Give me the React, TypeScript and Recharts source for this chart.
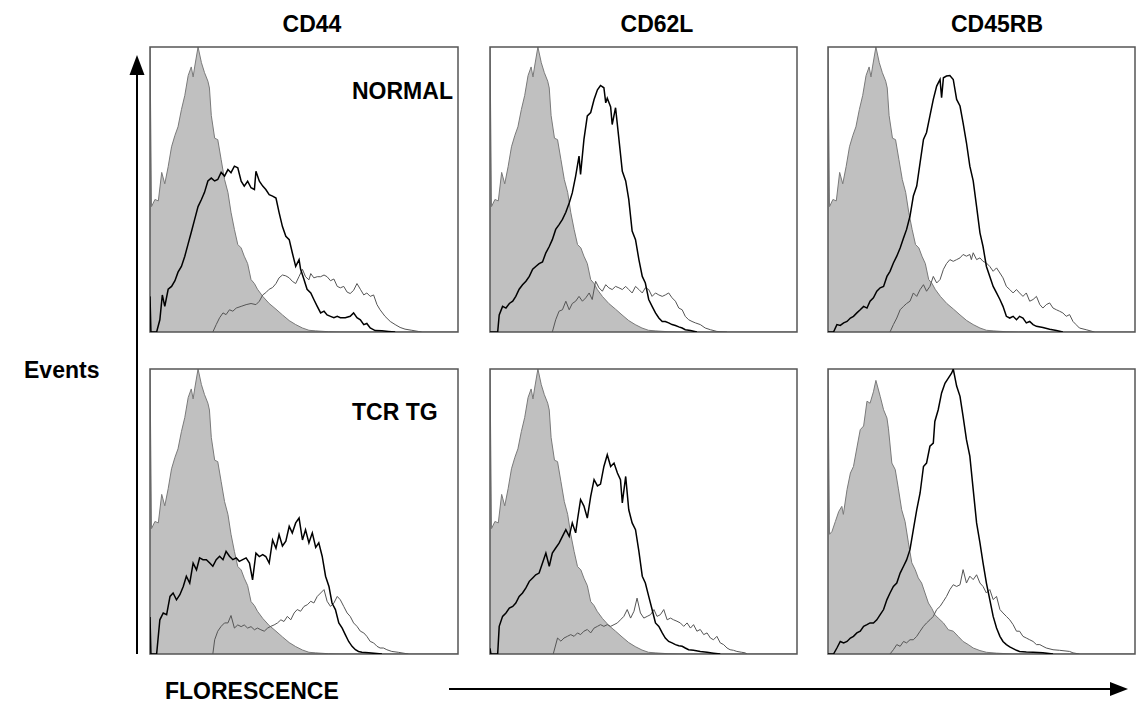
import { ComposedChart, Area, Line, XAxis, YAxis, ReferenceArea } from "recharts";

// Each series: [channel as % of panel width, events as % of panel height]

// isotype control (grey filled)
const CONTROL = [
  [0, 100], [0.5, 44], [1.6, 46.5], [2.7, 46], [3.8, 56], [4.8, 52], [5.9, 58], [7, 65], [8.1, 69],
  [9.1, 72], [10.2, 78], [11.3, 83], [12.4, 90], [13.4, 93], [14, 89.5], [14.5, 93], [15.6, 100],
  [16.7, 94.5], [17.7, 91], [18.8, 88], [19.3, 85.6], [19.9, 76], [21, 68], [22, 67.5], [23.1, 60.5],
  [24.2, 53.5], [25.3, 49], [26.3, 42], [27.4, 36], [28.5, 30.7], [29.6, 29.5], [30.6, 26.6],
  [31.7, 24], [32.8, 18.4], [33.9, 17], [34.9, 15], [36.6, 12.5], [38.7, 10], [40.9, 8], [43, 6],
  [45.2, 4], [47.3, 2.6], [49.5, 1.4], [51.6, 0.6], [53.8, 0.4], [58, 0.1], [62, 0], [100, 0],
];
const CONTROL_TG_CD45RB = [
  [0, 100], [0.5, 42], [1.3, 43], [2.4, 46.5], [3.5, 50], [4.5, 51.8], [5, 49], [6.2, 57.7],
  [7.3, 63.5], [8.3, 65.8], [9.4, 72.3], [10.5, 78.7], [11.6, 80], [12.7, 88.7], [13.7, 88],
  [14.8, 92], [15.6, 96], [17, 90.4], [18.1, 85.7], [19.2, 82.8], [19.7, 79], [20.8, 67],
  [21.9, 64.7], [22.9, 58.2], [24, 50.6], [25.1, 46.5], [26.2, 39], [27.3, 32], [28.4, 29.6],
  [29.4, 26.7], [30.5, 24.9], [31.6, 21.4], [32.7, 17.9], [33.8, 16], [34.8, 13.8], [35.9, 12.6],
  [37.6, 10.9], [39.2, 8.5], [40.8, 8], [42.4, 6.2], [44, 4.4], [45.7, 3.3], [47.3, 2.1],
  [49.5, 1.2], [51.6, 0.6], [54.9, 0.3], [60, 0], [100, 0],
];

// NORMAL row
const CD44_NORMAL_BOLD = [
  [0, 12.5], [0.3, 0], [2.15, 0], [3.2, 4.3], [4, 13], [4.8, 9], [5.9, 15], [7, 16], [8.1, 18],
  [9.1, 21], [10.2, 23], [11.3, 26.6], [12.4, 31], [13.4, 35], [14.5, 39.5], [15.6, 44], [16.7, 46.5],
  [17.7, 49], [18.8, 53], [19.9, 54], [21, 53], [22, 53.5], [23.1, 56], [24.2, 54.7], [25.3, 57],
  [26.3, 55.9], [27.4, 58.2], [28.5, 57.6], [29.6, 52.9], [30.6, 51.2], [31.7, 52.9], [32.8, 50.6],
  [33.9, 50], [34.4, 56.4], [35.5, 52.9], [36.6, 51.2], [37.6, 50], [38.7, 48.2], [39.8, 47.7],
  [40.9, 47], [41.9, 42], [43, 37], [44.1, 33.6], [45.2, 32.4], [46.2, 27.8], [47.3, 23],
  [48.4, 25.4], [48.9, 22], [50, 18.4], [51, 15], [52.2, 13.7], [53.2, 11.4], [54.3, 9], [55.4, 6.7],
  [56.5, 7.3], [57.5, 6], [58.6, 5.5], [59.7, 5], [60.8, 5.5], [61.8, 5], [63.4, 5], [65, 5.5],
  [66.1, 6.7], [67.2, 5], [68.3, 4.3], [69.4, 2.6], [70.4, 3], [71.5, 1.4], [73.1, 0.5], [75.3, 0.4],
  [77.4, 0.2], [79.6, 0],
];
const CD44_NORMAL_THIN = [
  [20.4, 0], [21.5, 2.6], [22.6, 5], [23.7, 6.7], [24.7, 6.1], [25.8, 7.8], [26.9, 7.3], [28, 8.4],
  [29.6, 9], [31.2, 9.6], [32.8, 10], [34.4, 9.6], [35.5, 10.8], [36.6, 13], [37.6, 13.8], [38.7, 15],
  [39.8, 15.6], [40.9, 17], [41.9, 19], [43, 20], [44.1, 19.7], [45.2, 19], [46.2, 17.8], [47.3, 17],
  [48.4, 19.5], [49.5, 22], [50.5, 19.4], [51.6, 18.3], [52.2, 20.5], [53.2, 19], [54.3, 19.4],
  [55.4, 19.4], [56.5, 20], [57.5, 19.4], [58.6, 18], [59.7, 18.6], [60.8, 16], [61.8, 15.5],
  [62.9, 16], [64, 14], [65, 13.5], [66.1, 14.6], [67.2, 17], [68.3, 15], [69.4, 13], [70.4, 13.7],
  [71.5, 12.5], [72.6, 13], [73.7, 9.6], [74.7, 7.8], [76.3, 5.5], [78, 3.7], [79.6, 2.6],
  [81.2, 1.6], [82.8, 1], [85, 0.6], [87.1, 0.2], [88.2, 0],
];
const CD62L_NORMAL_BOLD = [
  [0, 0], [2.5, 0], [3, 6], [4.1, 9], [5.2, 8.4], [6.3, 10], [7.4, 10.8], [8.4, 12.5], [9.5, 15],
  [10.6, 16.6], [11.7, 17.8], [12.8, 19.5], [13.9, 22], [14.9, 23], [16, 24], [17.1, 24.6],
  [18.2, 27.8], [19.3, 30], [20.3, 32.4], [21.4, 36], [22.5, 37.7], [23.6, 39.5], [24.7, 42],
  [25.8, 45.3], [26.8, 48.8], [27.9, 54.7], [29, 61.7], [29.5, 55.3], [30.6, 67.6], [31.7, 75.8],
  [32.8, 77], [33.9, 81.6], [35, 85], [36, 86.5], [37.1, 85.7], [37.7, 80.4], [38.2, 82], [39.3, 79],
  [39.8, 72.8], [40.9, 78.7], [42, 67.6], [43.1, 56.4], [44.2, 53], [45.2, 46.5], [46.3, 35.4],
  [47.4, 32.4], [48.5, 25.4], [49.6, 19.5], [50.6, 17.2], [51.7, 11.4], [52.8, 9], [53.9, 6.7],
  [55, 4.9], [56.1, 3.7], [57.1, 3.7], [58.2, 3.2], [59.3, 2.6], [60.4, 2.3], [61.5, 1.8],
  [62.6, 1.4], [63.6, 0.8], [65.3, 0.5], [67.4, 0],
];
const CD62L_NORMAL_THIN = [
  [20.3, 0], [21.4, 4.3], [22.5, 7.3], [23.6, 7.8], [24.7, 10.8], [25.8, 7.8], [26.8, 10],
  [27.9, 10.8], [29, 12.5], [30.1, 10.8], [31.2, 12], [32.3, 13.7], [33.3, 11.4], [34.4, 17.8],
  [35.5, 15.5], [36.6, 14.3], [37.7, 16.6], [38.7, 15.5], [39.8, 14.9], [40.9, 16], [42, 15.5],
  [43.1, 14.9], [44.2, 16], [45.2, 14.9], [46.3, 13.7], [47.4, 16], [48.5, 14.9], [49.6, 13.7],
  [50.6, 15.5], [51.7, 14.9], [52.8, 12.5], [53.9, 13.7], [55, 13], [56.1, 12.5], [57.1, 13],
  [58.2, 13.7], [59.3, 12], [60.4, 10.8], [61.5, 8.4], [62.6, 7.8], [63.6, 5.5], [64.7, 4.3],
  [65.8, 3.7], [66.9, 3.2], [68.5, 2.6], [70.1, 1.4], [71.8, 0.8], [73.9, 0.2], [77.2, 0],
];
const CD45RB_NORMAL_BOLD = [
  [0, 0], [1.8, 0], [2.9, 2.6], [4, 2.3], [5.1, 3.2], [6.2, 3.7], [7.3, 4.9], [8.3, 5.5], [9.4, 6.7],
  [10.5, 7.8], [11.6, 9], [12.7, 8.4], [13.7, 10.8], [14.8, 12], [15.9, 14.3], [17, 15.5], [18.1, 16],
  [19.2, 19.5], [20.2, 21.3], [21.3, 24.2], [22.4, 26.6], [23.5, 29.5], [24.6, 33], [25.6, 36],
  [26.7, 40.6], [27.8, 47.7], [28.9, 51.2], [30, 59.4], [31.1, 67.6], [32.1, 70], [33.2, 75.8],
  [34.3, 81.6], [35.4, 86.3], [36.5, 88.6], [37, 82.2], [37.6, 89.2], [38.6, 89.8], [39.7, 90],
  [40.8, 88.6], [41.9, 81.6], [43, 79.3], [44, 73.4], [45.1, 66.4], [46.2, 58.2], [47.3, 53],
  [48.4, 44], [49.5, 34.8], [50.5, 30], [51.6, 23], [52.7, 19.5], [53.8, 16], [54.9, 13.7],
  [56, 11.4], [57, 9], [58.1, 5.5], [59.2, 4.9], [60.3, 5.5], [61.4, 4.3], [62.4, 5.5], [63.5, 4.9],
  [64.6, 3.2], [65.7, 3.7], [66.8, 2.6], [67.9, 2], [70, 1.6], [72.2, 1], [74.4, 0.5], [76.5, 0],
];
const CD45RB_NORMAL_THIN = [
  [20.2, 0], [21.3, 2.6], [22.4, 4.9], [23.5, 7.8], [24.6, 9], [25.6, 10], [26.7, 10.8], [27.8, 13.7],
  [28.9, 12.5], [30, 14.9], [31.1, 16.6], [32.1, 14.3], [33.2, 16], [34.3, 19.5], [35.4, 17.2],
  [36.5, 18.4], [37.6, 22], [38.6, 24], [39.7, 25.4], [40.8, 24.8], [41.9, 25.4], [43, 26],
  [44, 27.2], [45.1, 26.6], [46.2, 27.2], [46.7, 25.4], [47.3, 27.8], [48.4, 25.4], [49.5, 26],
  [50.5, 24.8], [51.6, 24.2], [52.7, 23], [53.8, 21.3], [54.9, 22.5], [56, 20.7], [57, 19], [58.1, 16],
  [59.2, 14.9], [60.3, 13.7], [61.4, 14.9], [62.4, 13.7], [63.5, 12.5], [64.6, 13.7], [65.7, 10.8],
  [66.8, 11.4], [67.9, 12.5], [69, 9.6], [70, 8.4], [71.1, 9.6], [72.2, 10.2], [73.3, 8.4],
  [74.4, 7.8], [75.4, 7.3], [76.5, 6.7], [77.6, 5.5], [78.7, 6.1], [79.8, 3.7], [80.8, 2.6],
  [81.9, 1.4], [84.1, 0.8], [86.8, 0],
];

// TCR TG row
const CD44_TG_BOLD = [
  [0, 13], [0.3, 0], [2.15, 0], [3.2, 12], [4.3, 14.4], [5.4, 13.8], [6.5, 20.2], [7.5, 21.4],
  [8.6, 19], [9.7, 20.8], [10.8, 23.7], [11.8, 27.3], [12.9, 24.9], [14, 31.9], [15.1, 29.5],
  [16.1, 33.7], [17.2, 33.1], [18.3, 33.1], [19.4, 31.9], [20.4, 30.8], [21.5, 33.1], [22.6, 34.3],
  [23.7, 33.1], [24.7, 36], [25.8, 34.3], [26.9, 33.1], [28, 33.7], [29, 32.5], [30.1, 33.1],
  [31.2, 33.7], [32.3, 31.9], [33.3, 26], [34.4, 35.4], [35.5, 34.2], [36.6, 34.9], [37.6, 34.2],
  [38.7, 31.9], [39.8, 40], [40.9, 37.1], [41.9, 41.9], [43, 37.9], [44.1, 39.6], [45.2, 44.8],
  [46.2, 42.5], [47.3, 46], [48.4, 47.7], [49.5, 40], [50.5, 43.6], [51.6, 39], [52.7, 42.5],
  [53.8, 37.4], [54.8, 39], [55.9, 34.3], [57, 27.3], [58.1, 23.7], [59.1, 17.9], [60.2, 15.6],
  [61.3, 10.9], [62.4, 9.1], [63.4, 6.8], [64.5, 4.4], [65.6, 2.7], [66.7, 1.5], [67.7, 0.9],
  [68.8, 0.6], [71, 0.4], [75.3, 0],
];
const CD44_TG_THIN = [
  [20.4, 0], [21, 5], [22, 8], [23.1, 9.7], [24.2, 10.9], [25.3, 10.9], [26.3, 13.5], [27.4, 9.1],
  [28.5, 10.2], [29.6, 9.6], [30.6, 10.2], [31.7, 9.1], [32.8, 9.6], [33.9, 8.5], [34.9, 9.1], [36, 8.5],
  [37.1, 8], [38.2, 9.1], [39.2, 9.7], [40.3, 10.2], [41.4, 10.9], [42.5, 12], [43.5, 11.4],
  [44.6, 13.2], [45.7, 12], [46.8, 14.4], [47.8, 15.6], [48.9, 15], [50, 16.7], [51.1, 17.3],
  [52.2, 18.5], [53.2, 17.9], [54.3, 20.2], [55.4, 21.4], [56.5, 22.6], [57.5, 18.5], [58.6, 16.7],
  [59.7, 17.9], [60.8, 20.2], [61.8, 19], [62.9, 16.7], [64, 14.4], [65, 13.2], [66.1, 10.9],
  [67.2, 9.7], [68.3, 8], [69.4, 7.4], [70.4, 6.2], [71.5, 4.4], [72.6, 3.9], [73.7, 2.7],
  [74.7, 2.1], [75.8, 2.1], [76.9, 1.5], [78.5, 0.9], [80.6, 0.6], [83.9, 0],
];
const CD62L_TG_BOLD = [
  [0, 2], [0.3, 0], [2.5, 0], [3, 9.7], [4.1, 13.2], [5.2, 14.4], [6.3, 16.1], [7.4, 16.7],
  [8.4, 17.9], [9.5, 20.2], [10.6, 21.4], [11.7, 23.2], [12.8, 25.5], [13.9, 26.7], [14.9, 27.8],
  [16, 28.4], [17.1, 31.9], [18.2, 35.4], [19.3, 30.8], [20.3, 35.4], [21.4, 37.2], [22.5, 38.9],
  [23.6, 41.3], [24.7, 43.6], [25.8, 41.3], [26.8, 46], [27.9, 42.5], [28.5, 47.1], [29.5, 54.2],
  [30.6, 51.9], [31.7, 47.7], [32.8, 55.3], [33.9, 61.2], [35, 59], [36, 59.6], [37.1, 65.8],
  [38.2, 69.9], [39.3, 65.8], [40.4, 67], [41.5, 63.5], [42.5, 61.2], [43.1, 53], [44.2, 62.3],
  [45.2, 50.6], [46.3, 46], [47.4, 43.6], [48.5, 36], [49.6, 27.3], [50.6, 24.9], [51.7, 20.2],
  [52.8, 15.6], [53.9, 10.9], [55, 9.7], [56.1, 7.4], [57.1, 5.6], [58.2, 4.4], [59.3, 3.9],
  [60.4, 3.3], [61.5, 2.9], [62.6, 2.7], [63.6, 2.1], [64.7, 1.5], [66.3, 1.3], [68.5, 0.9],
  [70.7, 0.6], [72.8, 0.3], [75, 0],
];
const CD62L_TG_THIN = [
  [20.6, 0], [22, 5.6], [23.1, 4.5], [24.1, 5.6], [25.2, 6.2], [26.3, 6.8], [27.4, 6.2], [28.5, 7.4],
  [29.5, 6.8], [30.6, 8], [31.7, 8.6], [32.8, 7.4], [33.9, 9.1], [35, 9.7], [36, 10.3], [37.1, 9.7],
  [38.2, 10.3], [39.3, 9.7], [40.4, 10.3], [41.5, 10.9], [42.5, 12], [43.6, 13.2], [44.7, 15.6],
  [45.8, 12.6], [46.9, 15], [47.9, 19.6], [49, 14.4], [50.1, 12.6], [51.2, 13.2], [52.3, 13.8],
  [53.4, 15.6], [54.4, 13.2], [55.5, 13.8], [56.6, 15.6], [57.7, 12], [58.8, 12.6], [59.8, 12],
  [60.9, 11.5], [62, 10.9], [63.1, 9.7], [64.2, 10.9], [65.3, 9.1], [66.3, 10.3], [67.4, 8],
  [68.5, 8.6], [69.6, 6.8], [70.7, 7.4], [71.8, 5.6], [72.8, 5], [73.9, 6.2], [75, 3.9], [76.1, 3.3],
  [77.2, 2.1], [78.2, 1.5], [79.3, 1.3], [80.4, 0.9], [82, 0.6], [83.1, 0.4], [83.7, 0],
];
const CD45RB_TG_BOLD = [
  [0, 0], [1.8, 0], [2.9, 2.1], [4, 4.4], [5.1, 3.9], [6.2, 4.4], [7.3, 5.6], [8.3, 6.2], [9.4, 7.4],
  [10.5, 8], [11.6, 9.7], [12.7, 10.3], [13.7, 10.9], [14.8, 10.9], [15.9, 12], [17, 13.8],
  [18.1, 15.6], [19.2, 19.1], [20.2, 21.4], [21.3, 23.7], [22.4, 24.9], [23.5, 28.4], [24.6, 30.8],
  [25.6, 33], [26.7, 36.6], [27.8, 43.6], [28.9, 50.6], [30, 56.5], [31.1, 65.8], [32.1, 67],
  [33.2, 72.9], [34.3, 74], [34.8, 81.6], [35.9, 85.7], [37, 91.6], [38.1, 95], [39.2, 96.8],
  [40.3, 98.6], [40.8, 100], [41.9, 94], [43, 90.4], [44, 83.4], [45.1, 75.2], [46.2, 69.4],
  [47.3, 57.7], [48.4, 46], [49.5, 39], [50.5, 32], [51.6, 24.9], [52.7, 19.1], [53.8, 13.2],
  [54.9, 9.1], [56, 6.2], [57, 4.4], [58.1, 3.3], [59.2, 2.5], [60.3, 1.9], [61.4, 1.3], [62.4, 0.9],
  [64.6, 0.7], [66.8, 0.6], [70, 0.4], [73.3, 0],
];
const CD45RB_TG_THIN = [
  [20.2, 0], [21.3, 1.5], [22.4, 3.3], [23.5, 2.7], [24.6, 4.4], [25.6, 3.9], [26.7, 5], [27.8, 5],
  [28.9, 6.2], [30, 8], [31.1, 9.7], [32.1, 10.9], [33.2, 12], [34.3, 13.2], [35.4, 15.6],
  [36.5, 16.7], [37.6, 18.5], [38.6, 20.2], [39.7, 22.6], [40.8, 24.3], [41.9, 23.7], [43, 24.3],
  [44, 29.6], [45.1, 24.9], [46.2, 27.3], [47.3, 26.1], [48.4, 27.8], [49.5, 24.9], [50.5, 23.7],
  [51.6, 21.4], [52.7, 22.6], [53.8, 19.1], [54.9, 20.2], [56, 15.6], [57, 14.4], [58.1, 13.2],
  [59.2, 12], [60.3, 10.3], [61.4, 8], [62.4, 8], [63.5, 6.2], [64.6, 5.6], [65.7, 5], [66.8, 4.4],
  [67.9, 3.3], [69, 3.3], [70, 2.7], [71.1, 2.1], [73.3, 1.5], [75.4, 1.3], [78.7, 0.9], [79.8, 0.4],
  [81.9, 0],
];

const TICKS = [12.5, 25, 37.5, 50, 62.5, 75, 87.5];
const MARKERS = ["CD44", "CD62L", "CD45RB"];
const GROUPS = ["NORMAL", "TCR TG"];

const PANELS = [
  [
    { control: CONTROL, bold: CD44_NORMAL_BOLD, thin: CD44_NORMAL_THIN },
    { control: CONTROL, bold: CD62L_NORMAL_BOLD, thin: CD62L_NORMAL_THIN },
    { control: CONTROL, bold: CD45RB_NORMAL_BOLD, thin: CD45RB_NORMAL_THIN },
  ],
  [
    { control: CONTROL, bold: CD44_TG_BOLD, thin: CD44_TG_THIN },
    { control: CONTROL, bold: CD62L_TG_BOLD, thin: CD62L_TG_THIN },
    { control: CONTROL_TG_CD45RB, bold: CD45RB_TG_BOLD, thin: CD45RB_TG_THIN },
  ],
];

const COLS = [
  { left: 150, width: 308, title: 312 },
  { left: 490, width: 307, title: 657 },
  { left: 828, width: 307, title: 997 },
];
const ROWS = [
  { top: 47, height: 285 },
  { top: 369, height: 285 },
];

const FONT = '"Liberation Sans", Arial, Helvetica, sans-serif';
const M = 2;
const AXIS_H = 6;

type Series = number[][];

const toPoints = (s: Series) => s.map(([x, y]) => ({ x, y }));

interface HistProps {
  left: number;
  top: number;
  width: number;
  height: number;
  control: Series;
  bold: Series;
  thin: Series;
}

function Histogram({ left, top, width, height, control, bold, thin }: HistProps) {
  return (
    <div style={{ position: "absolute", left: left - M, top: top - M }}>
      <ComposedChart
        width={width + 2 * M}
        height={height + M + AXIS_H}
        margin={{ top: M, right: M, bottom: 0, left: M }}
      >
        <XAxis
          dataKey="x"
          type="number"
          domain={[0, 100]}
          ticks={TICKS}
          tick={false}
          tickSize={3}
          height={AXIS_H}
          axisLine={false}
          tickLine={{ stroke: "#666" }}
          allowDataOverflow
        />
        <YAxis
          type="number"
          domain={[0, 100]}
          ticks={TICKS}
          tick={false}
          tickSize={2}
          width={0}
          mirror
          axisLine={false}
          tickLine={{ stroke: "#999" }}
          allowDataOverflow
        />
        <Area
          data={toPoints(control)}
          type="linear"
          dataKey="y"
          fill="#c0c0c0"
          fillOpacity={1}
          stroke="#7a7a7a"
          strokeWidth={1}
          dot={false}
          activeDot={false}
          isAnimationActive={false}
        />
        <Line
          data={toPoints(thin)}
          type="linear"
          dataKey="y"
          stroke="#555"
          strokeWidth={1}
          dot={false}
          activeDot={false}
          isAnimationActive={false}
        />
        <Line
          data={toPoints(bold)}
          type="linear"
          dataKey="y"
          stroke="#000"
          strokeWidth={1.5}
          dot={false}
          activeDot={false}
          isAnimationActive={false}
        />
        <ReferenceArea
          x1={0}
          x2={100}
          y1={0}
          y2={100}
          fill="none"
          fillOpacity={0}
          stroke="#555"
          strokeWidth={1.5}
          ifOverflow="visible"
        />
      </ComposedChart>
    </div>
  );
}

export default function App() {
  return (
    <div
      style={{
        position: "absolute",
        left: 0,
        top: 0,
        width: 1136,
        height: 711,
        background: "#fff",
        fontFamily: FONT,
      }}
    >
      {ROWS.map((r, ri) =>
        COLS.map((c, ci) => (
          <Histogram
            key={`${ri}-${ci}`}
            left={c.left}
            top={r.top}
            width={c.width}
            height={r.height}
            {...PANELS[ri][ci]}
          />
        ))
      )}
      <svg
        width={1136}
        height={711}
        style={{ position: "absolute", left: 0, top: 0, pointerEvents: "none" }}
      >
        <g fontFamily={FONT} fontWeight="bold" fontSize={23} fill="#000">
          {MARKERS.map((m, i) => (
            <text key={m} x={COLS[i].title} y={32} textAnchor="middle">
              {m}
            </text>
          ))}
          <text x={352} y={99}>{GROUPS[0]}</text>
          <text x={352} y={420}>{GROUPS[1]}</text>
          <text x={24} y={378}>Events</text>
          <text x={165} y={699}>FLORESCENCE</text>
        </g>
        {/* Events arrow */}
        <line x1={137} y1={654} x2={137} y2={72} stroke="#000" strokeWidth={2} />
        <polygon points="137,55 129.5,75 144.5,75" fill="#000" />
        {/* fluorescence arrow */}
        <line x1={449} y1={689} x2={1112} y2={689} stroke="#000" strokeWidth={2} />
        <polygon points="1128,689 1110,682 1110,696" fill="#000" />
      </svg>
    </div>
  );
}
